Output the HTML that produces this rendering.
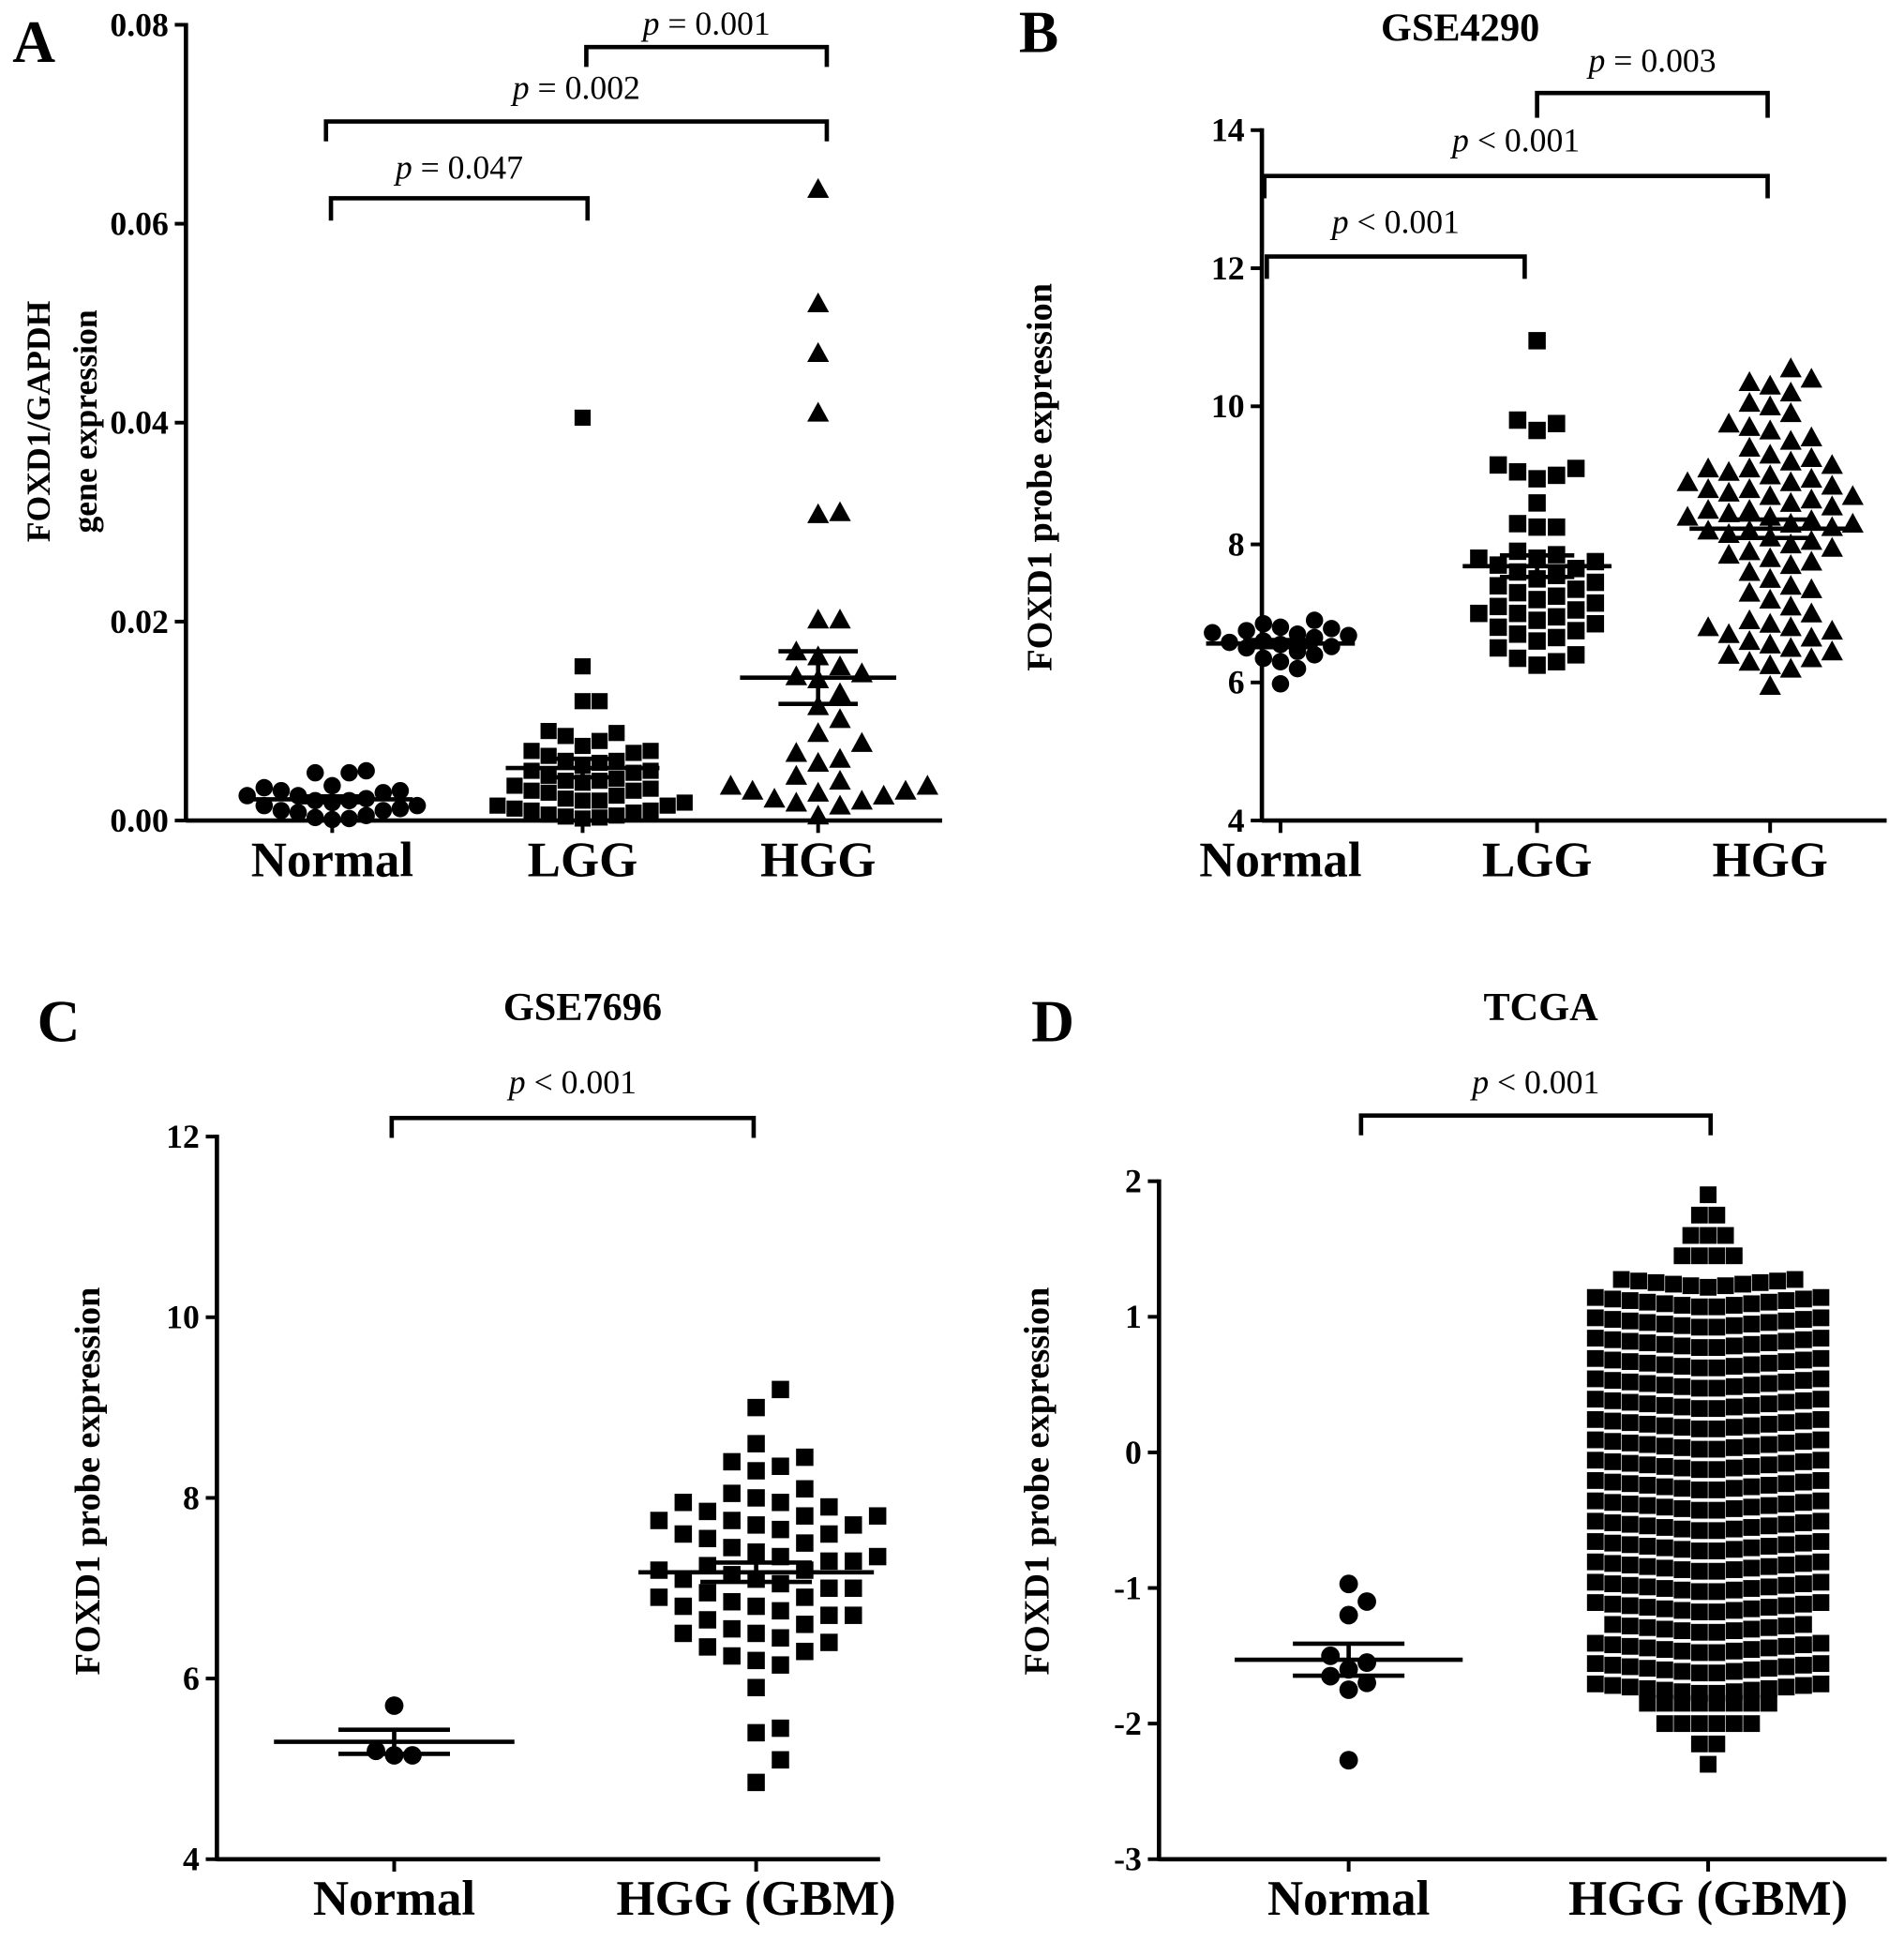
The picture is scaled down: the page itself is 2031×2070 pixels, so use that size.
<!DOCTYPE html>
<html><head><meta charset="utf-8"><style>
html,body{margin:0;padding:0;background:#fff;}
svg{display:block;font-family:"Liberation Serif",serif;}
</style></head><body>
<svg id="fig" width="2031" height="2070" viewBox="0 0 1536 1566" preserveAspectRatio="none" xmlns="http://www.w3.org/2000/svg"></svg>
<script>
// ---- Panel A data ----
const aCategories = ["Normal","LGG","HGG"];
const aTicks = [0,0.02,0.04,0.06,0.08];
const aTickLabels = ["0.00","0.02","0.04","0.06","0.08"];
const aNormal = [0.005,0.0048,0.0048,0.0035,0.0033,0.003,0.003,0.0028,0.0025,0.0025,0.0022,0.002,0.002,0.0018,0.0015,0.0015,0.0012,0.001,0.001,0.0008,0.0005,0.0003,0.0002,0.0001];
const aLGG = [0.0405,0.0155,0.012,0.012,0.009,0.0088,0.0085,0.008,0.0075,0.007,0.007,0.0068,0.0065,0.006,0.006,0.0058,0.0055,0.005,0.005,0.0048,0.0045,0.0042,0.004,0.004,0.0038,0.0035,0.0032,0.003,0.003,0.0028,0.0025,0.0022,0.002,0.002,0.0018,0.0015,0.0015,0.0012,0.001,0.001,0.0008,0.0006,0.0005,0.0004,0.0003,0.0002];
const aHGG = [0.0635,0.052,0.047,0.041,0.031,0.0308,0.0202,0.0202,0.017,0.0165,0.0155,0.0148,0.0145,0.0142,0.0128,0.0115,0.0102,0.0088,0.0078,0.0068,0.0062,0.0058,0.0045,0.004,0.0035,0.0035,0.003,0.003,0.0028,0.0025,0.0022,0.002,0.0018,0.0015,0.0005];
// ---- Panel B data ----
const bCategories = ["Normal","LGG","HGG"];
const bTicks = [4,6,8,10,12,14];
const bNormal = [6.9,6.85,6.8,6.78,6.75,6.72,6.7,6.68,6.65,6.6,6.58,6.55,6.52,6.5,6.45,6.4,6.35,6.3,6.2,5.98];
const bLGG = [10.95,9.8,9.75,9.65,9.15,9.1,9.05,9.0,8.95,8.6,8.3,8.25,8.25,7.9,7.85,7.8,7.8,7.75,7.7,7.65,7.6,7.55,7.5,7.45,7.4,7.35,7.3,7.25,7.2,7.15,7.1,7.05,7.0,7.0,6.95,6.9,6.85,6.8,6.75,6.7,6.65,6.6,6.5,6.4,6.35,6.3,6.25];
const bHGG = [10.55,10.4,10.35,10.3,10.2,10.05,10.0,9.9,9.75,9.7,9.65,9.55,9.5,9.4,9.3,9.25,9.2,9.15,9.1,9.1,9.05,9.0,8.95,8.9,8.9,8.85,8.8,8.8,8.75,8.7,8.7,8.65,8.6,8.55,8.5,8.5,8.45,8.4,8.4,8.35,8.3,8.3,8.25,8.2,8.2,8.15,8.1,8.05,8.0,7.95,7.9,7.85,7.8,7.75,7.7,7.6,7.5,7.4,7.35,7.3,7.2,7.1,7.0,6.9,6.85,6.8,6.8,6.75,6.7,6.65,6.6,6.55,6.5,6.45,6.4,6.35,6.3,6.25,6.2,5.95];
// ---- Panel C data ----
const cCategories = ["Normal","HGG (GBM)"];
const cTicks = [4,6,8,10,12];
const cNormal = [5.7,5.2,5.15,5.15];
const cHGG = [9.2,9.0,8.6,8.45,8.4,8.35,8.3,8.1,8.05,8.0,7.95,7.95,7.9,7.85,7.8,7.8,7.75,7.75,7.7,7.7,7.65,7.6,7.6,7.55,7.5,7.45,7.4,7.35,7.35,7.3,7.3,7.25,7.2,7.2,7.15,7.1,7.1,7.05,7.0,7.0,6.95,6.9,6.9,6.85,6.8,6.8,6.75,6.7,6.7,6.65,6.6,6.55,6.5,6.5,6.45,6.4,6.35,6.3,6.25,6.2,6.15,5.9,5.45,5.4,5.1,4.85];
// ---- Panel D data ----
const dCategories = ["Normal","HGG (GBM)"];
const dTicks = [-3,-2,-1,0,1,2];
const dNormal = [-0.97,-1.1,-1.2,-1.5,-1.55,-1.6,-1.65,-1.7,-1.75,-2.27];
const dHGGLevels = [-2.3,-2.15,-2.0,-1.85,-1.7,-1.55,-1.4,-1.25,-1.1,-0.95,-0.8,-0.65,-0.5,-0.35,-0.2,-0.05,0.1,0.25,0.4,0.55,0.7,0.85,1.0,1.15,1.3,1.45,1.6,1.75,1.9];
const dHGGCounts = [1,2,6,8,14,14,14,12,14,14,14,14,14,14,14,14,14,14,14,14,14,14,14,14,11,4,3,2,1];

const NS="http://www.w3.org/2000/svg";
const svg=document.getElementById('fig');
function mk(tag,attrs,parent){const e=document.createElementNS(NS,tag);for(const k in attrs)e.setAttribute(k,attrs[k]);(parent||svg).appendChild(e);return e;}
function txt(s,attrs,parent){const e=mk('text',attrs,parent);e.textContent=s;return e;}
function mean(v){return v.reduce((a,b)=>a+b,0)/v.length;}
function sem(v){const m=mean(v);const sd=Math.sqrt(v.reduce((a,b)=>a+(b-m)*(b-m),0)/(v.length-1));return sd/Math.sqrt(v.length);}

function axes(g,P,ticks,labels){
  const y=v=>P.y0+(v-P.vmin)/(P.vmax-P.vmin)*(P.y1-P.y0);
  const ax=mk('g',{},g);
  
  
  mk('line',{x1:P.ax,y1:y(P.vmax)-1.5,x2:P.ax,y2:P.y0+1.5,stroke:'#000','stroke-width':3.5},ax);
  mk('line',{x1:P.ax,y1:P.y0,x2:P.xend,y2:P.y0,stroke:'#000','stroke-width':3.5},ax);
  ticks.forEach((t,i)=>{
    mk('line',{x1:P.ax-9,y1:y(t),x2:P.ax,y2:y(t),stroke:'#000','stroke-width':3},ax);
    const l=txt(labels?labels[i]:String(t),{x:P.ax-14,y:y(t)+9,'text-anchor':'end','font-weight':'bold','font-size':27},ax);
    
    
  });
  P.cx.forEach((cx,i)=>{
    mk('line',{x1:cx,y1:P.y0,x2:cx,y2:P.y0+10,stroke:'#000','stroke-width':3},ax);
    const l=txt(P.cats[i],{x:cx,y:P.y0+45,'text-anchor':'middle','font-weight':'bold','font-size':40},ax);
    
    
  });
  return y;
}
function marker(g,shape,x,y,s){
  let e;
  if(shape==='circle')e=mk('circle',{cx:x,cy:y,r:s/2,fill:'#000'},g);
  else if(shape==='square')e=mk('rect',{x:x-s/2,y:y-s/2,width:s,height:s,fill:'#000'},g);
  else e=mk('polygon',{points:`${x},${y-s*0.55} ${x-s*0.55},${y+s*0.45} ${x+s*0.55},${y+s*0.45}`,fill:'#000'},g);
  
  
}
function swarm(g,vals,cx,yf,shape,s,gap){
  gap=gap||s;
  const sorted=[...vals].sort((a,b)=>a-b);const placed=[];
  sorted.forEach(v=>{
    const py=yf(v);let k=0,px=cx;
    for(k=0;k<60;k++){
      const off=k===0?0:Math.ceil(k/2)*gap*0.98*(k%2?1:-1);
      px=cx+off;
      if(!placed.some(p=>Math.hypot(p[0]-px,p[1]-py)<gap*0.95))break;
    }
    placed.push([px,py]);marker(g,shape,px,py,s);
  });
}
function errbar(g,vals,cx,yf,hw,sw){
  const m=mean(vals),e=sem(vals);
  const eg=mk('g',{stroke:'#000','stroke-width':3.5},g);
  
  
  mk('line',{x1:cx-hw,y1:yf(m),x2:cx+hw,y2:yf(m)},eg);
  mk('line',{x1:cx-sw,y1:yf(m+e),x2:cx+sw,y2:yf(m+e)},eg);
  mk('line',{x1:cx-sw,y1:yf(m-e),x2:cx+sw,y2:yf(m-e)},eg);
  mk('line',{x1:cx,y1:yf(m+e),x2:cx,y2:yf(m-e)},eg);
}
function bracket(g,x1,x2,y,drop,label,ty){
  const b=mk('g',{},g);
  
  
  mk('polyline',{points:`${x1},${y+drop} ${x1},${y} ${x2},${y} ${x2},${y+drop}`,fill:'none',stroke:'#000','stroke-width':3.5},b);
  const t=txt('',{x:(x1+x2)/2,y:ty,'text-anchor':'middle','font-size':27},b);
  const p=mk('tspan',{'font-style':'italic'},t);p.textContent='p';
  const r=mk('tspan',{},t);r.textContent=' '+label;
}
function ytitle(g,lines,x,y,size){
  lines.forEach((s,i)=>{
    const t=txt(s,{x:0,y:0,'text-anchor':'middle','font-weight':'bold','font-size':size,transform:`translate(${x+i*38},${y}) rotate(-90)`},g);
    
    
  });
}
function letter(g,s,x,y){const t=txt(s,{x:x,y:y,'font-weight':'bold','font-size':48},g);}
function title(g,s,x,y){const t=txt(s,{x:x,y:y,'text-anchor':'middle','font-weight':'bold','font-size':32},g);}

// Panel A
(function(){
  const g=mk('g',{});
  const P={ax:150,xend:760,y0:662,y1:20,vmin:0,vmax:0.08,cx:[268,470,660],cats:aCategories};
  const y=axes(g,P,aTicks,aTickLabels);
  letter(g,'A',10,50);
  ytitle(g,['FOXD1/GAPDH','gene expression'],40,340,27);
  swarm(g,aNormal,P.cx[0],y,'circle',14);
  swarm(g,aLGG,P.cx[1],y,'square',13,14);
  swarm(g,aHGG,P.cx[2],y,'triangle',16,18);
  errbar(g,aNormal,P.cx[0],y,65,30);errbar(g,aLGG,P.cx[1],y,62,30);errbar(g,aHGG,P.cx[2],y,63,32);
  bracket(g,473,667,38,16,'= 0.001',28);
  bracket(g,263,667,98,16,'= 0.002',80);
  bracket(g,267,474,160,18,'= 0.047',144);
})();
// Panel B
(function(){
  const g=mk('g',{});
  const P={ax:1018,xend:1522,y0:662,y1:105,vmin:4,vmax:14,cx:[1033,1240,1428],cats:bCategories};
  const y=axes(g,P,bTicks);
  letter(g,'B',822,42);title(g,'GSE4290',1178,33);
  ytitle(g,['FOXD1 probe expression'],848,385,29);
  swarm(g,bNormal,P.cx[0],y,'circle',14);
  swarm(g,bLGG,P.cx[1],y,'square',14,16);
  swarm(g,bHGG,P.cx[2],y,'triangle',16,17);
  errbar(g,bNormal,P.cx[0],y,60,30);errbar(g,bLGG,P.cx[1],y,60,30);errbar(g,bHGG,P.cx[2],y,65,35);
  bracket(g,1240,1426,75,20,'= 0.003',58);
  bracket(g,1020,1426,142,18,'< 0.001',122);
  bracket(g,1022,1230,207,18,'< 0.001',188);
})();
// Panel C
(function(){
  const g=mk('g',{});
  const P={ax:175,xend:710,y0:1500,y1:917,vmin:4,vmax:12,cx:[318,610],cats:cCategories};
  const y=axes(g,P,cTicks);
  letter(g,'C',30,840);title(g,'GSE7696',470,823);
  ytitle(g,['FOXD1 probe expression'],80,1195,29);
  swarm(g,cNormal,P.cx[0],y,'circle',15);
  swarm(g,cHGG,P.cx[1],y,'square',14,20);
  errbar(g,cNormal,P.cx[0],y,97,45);errbar(g,cHGG,P.cx[1],y,95,45);
  bracket(g,316,608,902,16,'< 0.001',882);
})();
// Panel D
(function(){
  const g=mk('g',{});
  const P={ax:935,xend:1522,y0:1500,y1:953,vmin:-3,vmax:2,cx:[1088,1378],cats:dCategories};
  const y=axes(g,P,dTicks);
  letter(g,'D',832,840);title(g,'TCGA',1243,823);
  ytitle(g,['FOXD1 probe expression'],846,1195,29);
  swarm(g,dNormal,P.cx[0],y,'circle',15);
  const s=14;
  dHGGLevels.forEach((lv,i)=>{
    const n=dHGGCounts[i];
    for(let j=0;j<n;j++){
      const off=(j-(n-1)/2)*s;
      const dip=(n>8?(1-Math.abs(off)/100)*9:0);
      marker(g,'square',P.cx[1]+off,y(lv)+dip,13.5);
    }
  });
  errbar(g,dNormal,P.cx[0],y,92,45);
  bracket(g,1098,1380,900,16,'< 0.001',882);
})();
</script>
</body></html>
